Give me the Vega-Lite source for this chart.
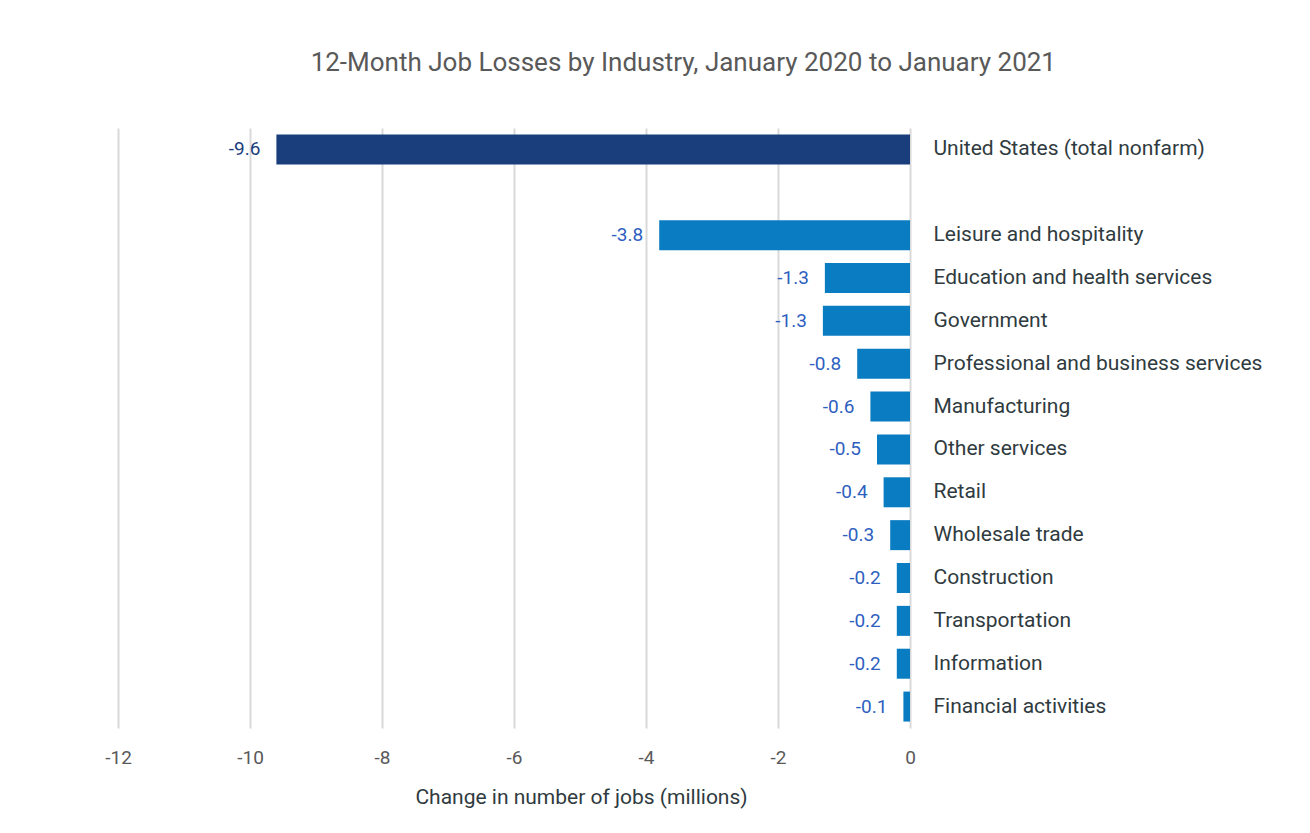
{
  "$schema": "https://vega.github.io/schema/vega-lite/v6.json",
  "width": 792,
  "height": 600,
  "padding": {"left": 104, "top": 50, "right": 20, "bottom": 20},
  "background": "white",
  "title": {
    "text": "12-Month Job Losses by Industry, January 2020 to January 2021",
    "fontSize": 26,
    "font": "Roboto, sans-serif",
    "fontWeight": "normal",
    "color": "#595959",
    "anchor": "middle",
    "frame": "bounds",
    "offset": 52
  },
  "data": {
    "values": [
      {"industry": "United States (total nonfarm)", "value": -9.6, "kind": "Total"},
      {"industry": "Leisure and hospitality", "value": -3.8, "kind": "Industry"},
      {"industry": "Education and health services", "value": -1.29, "kind": "Industry"},
      {"industry": "Government", "value": -1.32, "kind": "Industry"},
      {"industry": "Professional and business services", "value": -0.8, "kind": "Industry"},
      {"industry": "Manufacturing", "value": -0.6, "kind": "Industry"},
      {"industry": "Other services", "value": -0.5, "kind": "Industry"},
      {"industry": "Retail", "value": -0.4, "kind": "Industry"},
      {"industry": "Wholesale trade", "value": -0.3, "kind": "Industry"},
      {"industry": "Construction", "value": -0.2, "kind": "Industry"},
      {"industry": "Transportation", "value": -0.2, "kind": "Industry"},
      {"industry": "Information", "value": -0.2, "kind": "Industry"},
      {"industry": "Financial activities", "value": -0.1, "kind": "Industry"}
    ]
  },
  "encoding": {
    "y": {
      "field": "industry",
      "type": "nominal",
      "scale": {
        "domain": ["United States (total nonfarm)", " ", "Leisure and hospitality", "Education and health services", "Government", "Professional and business services", "Manufacturing", "Other services", "Retail", "Wholesale trade", "Construction", "Transportation", "Information", "Financial activities"],
        "paddingInner": 0.3,
        "paddingOuter": 0.15
      },
      "axis": {
        "orient": "right",
        "title": null,
        "ticks": false,
        "domain": false,
        "grid": false,
        "labelPadding": 23,
        "labelFontSize": 21,
        "labelFont": "Roboto, sans-serif",
        "labelColor": "#2F3B40",
        "labelLimit": 400
      }
    },
    "x": {
      "field": "value",
      "type": "quantitative",
      "scale": {"domain": [-12, 0], "nice": false},
      "axis": {
        "values": [-12, -10, -8, -6, -4, -2, 0],
        "format": "d",
        "labelFlush": false,
        "title": "Change in number of jobs (millions)",
        "titleFontSize": 21,
        "titleFont": "Roboto, sans-serif",
        "titleFontWeight": "normal",
        "titleColor": "#2F3B40",
        "titlePadding": 19,
        "titleX": 463,
        "labelFontSize": 19,
        "labelFont": "Roboto, sans-serif",
        "labelColor": "#595959",
        "labelPadding": 20,
        "ticks": false,
        "domain": false,
        "grid": true,
        "gridColor": "#D9D9D9",
        "gridWidth": 2
      }
    }
  },
  "layer": [
    {
      "mark": {"type": "bar"},
      "encoding": {
        "color": {
          "field": "kind",
          "type": "nominal",
          "scale": {"domain": ["Total", "Industry"], "range": ["#1A3E7C", "#0A7DC2"]},
          "legend": null
        }
      }
    },
    {
      "mark": {
        "type": "text",
        "align": "right",
        "baseline": "middle",
        "dx": -16,
        "fontSize": 19,
        "font": "Roboto, sans-serif"
      },
      "encoding": {
        "text": {"field": "value", "type": "quantitative", "format": ".1f"},
        "color": {
          "field": "kind",
          "type": "nominal",
          "scale": {"domain": ["Total", "Industry"], "range": ["#1A3E7C", "#2E5FC0"]},
          "legend": null
        }
      }
    }
  ],
  "resolve": {"scale": {"color": "independent"}},
  "config": {
    "view": {"stroke": null},
    "locale": {
      "number": {"decimal": ".", "thousands": ",", "grouping": [3], "currency": ["$", ""], "minus": "-"}
    }
  }
}
